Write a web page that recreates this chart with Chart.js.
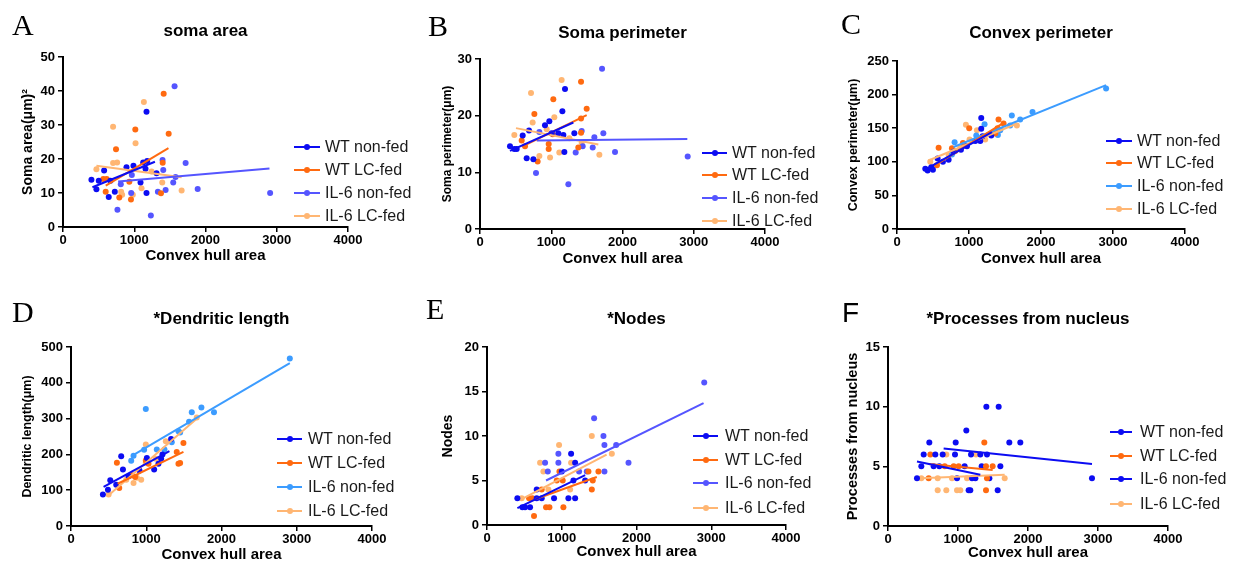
<!DOCTYPE html>
<html>
<head>
<meta charset="utf-8">
<script src="https://cdn.jsdelivr.net/npm/chart.js@4.4.1/dist/chart.umd.min.js"></script>
<style>
  html, body { margin: 0; padding: 0; background: #fff; }
  body { width: 1237px; height: 566px; position: relative; overflow: hidden; font-family: "Liberation Sans", Arial, sans-serif; }
  canvas { position: absolute; }
  .tag { position: absolute; font-family: "Liberation Serif", "Times New Roman", serif; font-size: 30px; line-height: 30px; color: #000; }
  .tag.sans { font-family: "Liberation Sans", Arial, sans-serif; font-size: 28px; line-height: 28px; }
  .key { position: absolute; height: 20px; display: flex; align-items: center; font-size: 16px; color: #1a1a1a; white-space: nowrap; }
  .key i { position: relative; display: block; height: 2px; }
  .key i::after { content: ""; position: absolute; left: 50%; top: 50%; width: 6px; height: 6px; margin: -3px 0 0 -3px; border-radius: 50%; background: inherit; }
</style>
</head>
<body>
<script>
const groups = ["WT non-fed", "WT LC-fed", "IL-6 non-fed", "IL-6 LC-fed"];
const xTicks = [0, 1000, 2000, 3000, 4000];

// A: soma area
const aWtNon = [[399,13.9],[469,11.1],[502,13.6],[577,16.6],[642,8.8],[666,13.6],[727,10.4],[891,17.6],[989,18.0],[1088,13.1],[1125,19.0],[1158,17.1],[1172,33.9],[1172,10.0],[1182,19.4],[1313,15.8]];
const aWtLc = [[566,14.1],[613,14.1],[599,10.4],[744,22.9],[790,8.7],[931,13.3],[954,8.1],[1015,28.7],[1375,9.9],[1399,18.9],[1413,39.2],[1483,27.4]];
const aIlNon = [[764,5.1],[811,12.6],[957,10.0],[966,15.3],[1233,3.4],[1332,10.4],[1397,19.7],[1407,16.8],[1440,10.9],[1547,13.1],[1566,41.4],[1580,14.7],[1721,18.8],[1890,11.2],[2907,10.0]];
const aIlLc = [[469,17.0],[703,29.5],[703,18.8],[760,19.0],[816,10.4],[830,9.5],[980,9.5],[1018,24.6],[1102,11.4],[1135,36.8],[1243,16.3],[1393,13.1],[1665,10.7]];
const aFits = [[[413,11.7],[1290,19.2]], [[600,12.2],[1480,23.2]], [[774,13.4],[2898,17.2]], [[469,18.0],[1665,14.6]]];

// B: soma perimeter
const bWtNon = [[421,14.6],[482,14.1],[515,14.1],[599,16.5],[655,12.5],[688,17.4],[749,12.3],[912,18.3],[973,19.0],[1006,16.9],[1099,16.9],[1156,20.8],[1170,16.6],[1184,13.6],[1193,24.7],[1324,16.9]];
const bWtLc = [[585,15.6],[632,14.6],[763,20.3],[809,11.9],[964,15.0],[964,14.1],[1020,16.7],[1029,22.9],[1380,14.4],[1418,17.0],[1418,19.5],[1418,26.0],[1497,21.2]];
const bIlNon = [[786,9.9],[833,17.1],[1240,7.9],[1343,13.5],[1427,17.3],[1441,14.6],[1582,14.4],[1605,16.2],[1713,28.3],[1731,16.9],[1895,13.6],[2915,12.8]];
const bIlLc = [[482,16.6],[716,24.0],[739,18.8],[833,12.9],[936,17.6],[983,12.6],[1043,19.7],[1113,13.5],[1146,26.3],[1254,16.0],[1427,15.2],[1675,13.1]];
const bFits = [[[421,13.8],[1310,18.8]], [[632,14.8],[1497,20.1]], [[796,15.6],[2910,15.9]], [[505,17.8],[1661,14.9]]];

// C: convex perimeter
const cWtNon = [[393,89.8],[425,87],[476,92],[499,88],[564,105],[638,100],[717,103],[786,115],[888,118],[971,123],[1087,131],[1156,131],[1170,149],[1170,165],[1188,138],[1309,139]];
const cWtLc = [[555,95],[578,121],[763,120],[809,116],[916,128],[1003,150],[1341,144],[1364,142],[1397,150],[1410,163],[1480,157]];
const cIlNon = [[763,111],[800,129],[1101,139],[1216,156],[1401,140],[1434,147],[1572,154],[1595,169],[1711,163],[1882,174],[2904,209]];
const cIlLc = [[462,100],[717,110],[879,122],[957,155],[1008,133],[1110,147],[1225,133],[1665,154]];
const cFits = [[[416,90],[1318,144]], [[532,95],[1480,158]], [[786,122],[2904,214]], [[439,102],[1665,157]]];

// D: dendritic length
const dWtNon = [[424,88],[491,101],[522,128],[601,115],[667,195],[690,158],[765,139],[910,155],[1008,190],[1105,158],[1162,174],[1198,188],[1215,200],[1330,243]];
const dWtLc = [[610,177],[641,106],[809,142],[853,137],[994,183],[1030,174],[1405,207],[1428,174],[1450,176],[1494,232]];
const dIlNon = [[800,182],[831,196],[972,213],[994,327],[1140,214],[1242,214],[1339,234],[1428,265],[1450,261],[1569,291],[1605,318],[1733,331],[1900,318],[2908,468]];
const dIlLc = [[500,88],[734,129],[831,120],[875,135],[933,129],[994,177],[994,228],[1127,188],[1260,237],[1671,303]];
const dFits = [[[433,109],[1308,209]], [[620,118],[1494,207]], [[809,196],[2908,455]], [[500,86],[1693,304]]];

// E: nodes
const eWtNon = [[406,3],[473,2],[509,2],[576,2],[665,3],[665,4],[732,3],[897,3],[1000,6],[1089,3],[1125,8],[1156,5],[1179,7],[1179,3],[1313,5]];
const eWtLc = [[563,3],[607,3],[629,1],[732,4],[790,2],[835,2],[933,5],[969,6],[1013,5],[1022,2],[1357,6],[1402,4],[1415,5],[1491,6]];
const eIlNon = [[777,7],[813,6],[955,8],[955,7],[1232,6],[1335,6],[1433,12],[1558,10],[1571,9],[1571,6],[1728,9],[1893,7],[2906,16]];
const eIlLc = [[464,3],[710,7],[754,6],[821,4],[964,9],[1112,4],[1125,7],[1402,10],[1670,8]];
const eFits = [[[406,1.9],[1313,5.6]], [[643,2.9],[1469,5.4]], [[790,5.0],[2897,13.7]], [[464,2.9],[1600,7.9]]];

// F: processes from nucleus
const fWtNon = [[414,4],[476,5],[510,6],[590,7],[652,5],[676,6],[733,5],[781,6],[957,6],[986,4],[1095,5],[1152,3],[1200,4],[1319,6]];
const fWtLc = [[581,4],[605,6],[810,5],[938,5],[1010,5],[1376,7],[1400,5],[1400,3],[1414,4],[1495,5]];
const fIlNon = [[967,7],[1119,8],[1176,3],[1186,6],[1248,4],[1338,5],[1405,10],[1414,6],[1448,4],[1567,3],[1581,10],[1605,5],[1733,7],[1890,7],[2914,4]];
const fIlLc = [[476,4],[710,3],[710,4],[833,3],[833,6],[914,4],[986,3],[1033,3],[1129,4],[1257,6],[1667,4]];
const fFits = [[[414,5.4],[1319,4.3]], [[581,5.2],[1495,4.7]], [[795,6.5],[2914,5.2]], [[462,4.0],[1667,4.3]]];

const BLUE = "#0c0cf2", ORANGE = "#ff6a10", VIOLET = "#5555ff", SKY = "#3c9cff", PEACH = "#ffb673";
const FONT = '"Liberation Sans", Arial, sans-serif';

const panels = [
  { tag: "A", title: "soma area", yTitle: "Soma area(μm)²", yMax: 50, yStep: 10,
    sets: [aWtNon, aWtLc, aIlNon, aIlLc], fits: aFits, colors: [BLUE, ORANGE, VIOLET, PEACH],
    L: 63, T: 57, R: 348, B: 227, titleY: 31, yLabelX: 28, yTitleSize: 14, xTitleY: 256,
    key: { x0: 294, x1: 320, tx: 325, rows: [147, 170, 193, 216] }, tagPos: [12, 10] },
  { tag: "B", title: "Soma perimeter", yTitle: "Soma perimeter(μm)", yMax: 30, yStep: 10,
    sets: [bWtNon, bWtLc, bIlNon, bIlLc], fits: bFits, colors: [BLUE, ORANGE, VIOLET, PEACH],
    L: 480, T: 59, R: 765, B: 229, titleY: 33, yLabelX: 447, yTitleSize: 12, xTitleY: 259,
    key: { x0: 702, x1: 727, tx: 732, rows: [153, 175, 198, 221] }, tagPos: [428, 11] },
  { tag: "C", title: "Convex perimeter", yTitle: "Convex perimeter(μm)", yMax: 250, yStep: 50,
    sets: [cWtNon, cWtLc, cIlNon, cIlLc], fits: cFits, colors: [BLUE, ORANGE, SKY, PEACH],
    L: 897, T: 61, R: 1185, B: 229, titleY: 33, yLabelX: 853, yTitleSize: 12.5, xTitleY: 259,
    key: { x0: 1106, x1: 1132, tx: 1137, rows: [141, 163, 186, 209] }, tagPos: [841, 9] },
  { tag: "D", title: "*Dendritic length", yTitle: "Dendritic length(μm)", yMax: 500, yStep: 100,
    sets: [dWtNon, dWtLc, dIlNon, dIlLc], fits: dFits, colors: [BLUE, ORANGE, SKY, PEACH],
    L: 71, T: 347, R: 372, B: 526, titleY: 319, yLabelX: 27, yTitleSize: 12.5, xTitleY: 555,
    key: { x0: 277, x1: 302, tx: 308, rows: [439, 463, 487, 511] }, tagPos: [12, 297] },
  { tag: "E", title: "*Nodes", yTitle: "Nodes", yMax: 20, yStep: 5,
    sets: [eWtNon, eWtLc, eIlNon, eIlLc], fits: eFits, colors: [BLUE, ORANGE, VIOLET, PEACH],
    L: 487, T: 347, R: 786, B: 525, titleY: 319, yLabelX: 448, yTitleSize: 14, xTitleY: 552,
    key: { x0: 693, x1: 718, tx: 725, rows: [436, 460, 483, 508] }, tagPos: [426, 294] },
  { tag: "F", title: "*Processes from nucleus", yTitle: "Processes from nucleus", yMax: 15, yStep: 5,
    sets: [fWtNon, fWtLc, fIlNon, fIlLc], fits: fFits, colors: [BLUE, ORANGE, BLUE, PEACH],
    L: 888, T: 347, R: 1168, B: 526, titleY: 319, yLabelX: 853, yTitleSize: 14.5, xTitleY: 553,
    key: { x0: 1110, x1: 1132, tx: 1140, rows: [432, 456, 479, 504] }, tagPos: [842, 299], sans: true },
];

document.addEventListener("DOMContentLoaded", () => {
  panels.forEach(renderPanel);
});

function renderPanel(p) {
  const yLH = p.yTitleSize * 1.2;
  const left = Math.round(p.yLabelX - yLH / 2);
  const top = p.titleY - 22;
  const bottom = p.xTitleY + 9;
  const right = p.R + 30;

  const canvas = document.createElement("canvas");
  canvas.width = right - left;
  canvas.height = bottom - top;
  canvas.style.left = left + "px";
  canvas.style.top = top + "px";
  document.body.appendChild(canvas);

  const yw = p.L - left;
  const xh = bottom - p.B;
  const titleLH = 17 * 1.2;
  const padTop = p.titleY - top - titleLH / 2;
  const padBottom = p.T - top - titleLH - padTop;

  const datasets = [];
  p.sets.forEach((pts, i) => {
    datasets.push({
      type: "line",
      label: groups[i] + " fit",
      data: p.fits[i].map(([x, y]) => ({ x, y })),
      borderColor: p.colors[i],
      borderWidth: 2,
      pointRadius: 0,
      fill: false,
      order: 1,
    });
    datasets.push({
      type: "scatter",
      label: groups[i],
      data: pts.map(([x, y]) => ({ x, y })),
      backgroundColor: p.colors[i],
      borderWidth: 0,
      pointRadius: 3,
      order: 2,
    });
  });

  const tickFont = { family: FONT, size: 13, weight: "bold" };
  const axisGrid = { drawOnChartArea: false, drawTicks: true, tickLength: 5, color: "#000", lineWidth: 1.5 };
  const axisBorder = { color: "#000", width: 2 };

  new Chart(canvas, {
    type: "scatter",
    data: { datasets },
    options: {
      responsive: false,
      animation: false,
      events: [],
      layout: { padding: { left: 0, right: 30, top: 0, bottom: 0 } },
      scales: {
        x: {
          type: "linear",
          min: 0,
          max: 4000,
          afterBuildTicks: (s) => { s.ticks = xTicks.map((v) => ({ value: v })); },
          afterFit: (s) => { s.height = xh; },
          ticks: { color: "#000", font: tickFont, padding: 1, maxRotation: 0, autoSkip: false, callback: (v) => String(v) },
          grid: axisGrid,
          border: axisBorder,
          title: { display: true, text: "Convex hull area", color: "#000", font: { family: FONT, size: 15, weight: "bold", lineHeight: 1.2 }, padding: 0 },
        },
        y: {
          type: "linear",
          min: 0,
          max: p.yMax,
          afterFit: (s) => { s.width = yw; },
          ticks: { stepSize: p.yStep, color: "#000", font: tickFont, padding: 3, callback: (v) => String(v) },
          grid: axisGrid,
          border: axisBorder,
          title: { display: true, text: p.yTitle, color: "#000", font: { family: FONT, size: p.yTitleSize, weight: "bold", lineHeight: 1.2 }, padding: 0 },
        },
      },
      plugins: {
        legend: { display: false },
        tooltip: { enabled: false },
        title: {
          display: true,
          text: p.title,
          fullSize: false,
          color: "#000",
          font: { family: FONT, size: 17, weight: "bold", lineHeight: 1.2 },
          padding: { top: padTop, bottom: padBottom },
        },
      },
    },
  });

  // key
  p.key.rows.forEach((y, i) => {
    const row = document.createElement("div");
    row.className = "key";
    row.style.left = p.key.x0 + "px";
    row.style.top = y - 10 + "px";
    row.innerHTML = `<i style="width:${p.key.x1 - p.key.x0}px;background:${p.colors[i]};margin-right:${p.key.tx - p.key.x1}px"></i><span>${groups[i]}</span>`;
    document.body.appendChild(row);
  });

  const tag = document.createElement("div");
  tag.className = "tag" + (p.sans ? " sans" : "");
  tag.textContent = p.tag;
  tag.style.left = p.tagPos[0] + "px";
  tag.style.top = p.tagPos[1] + "px";
  document.body.appendChild(tag);
}
</script>
</body>
</html>
